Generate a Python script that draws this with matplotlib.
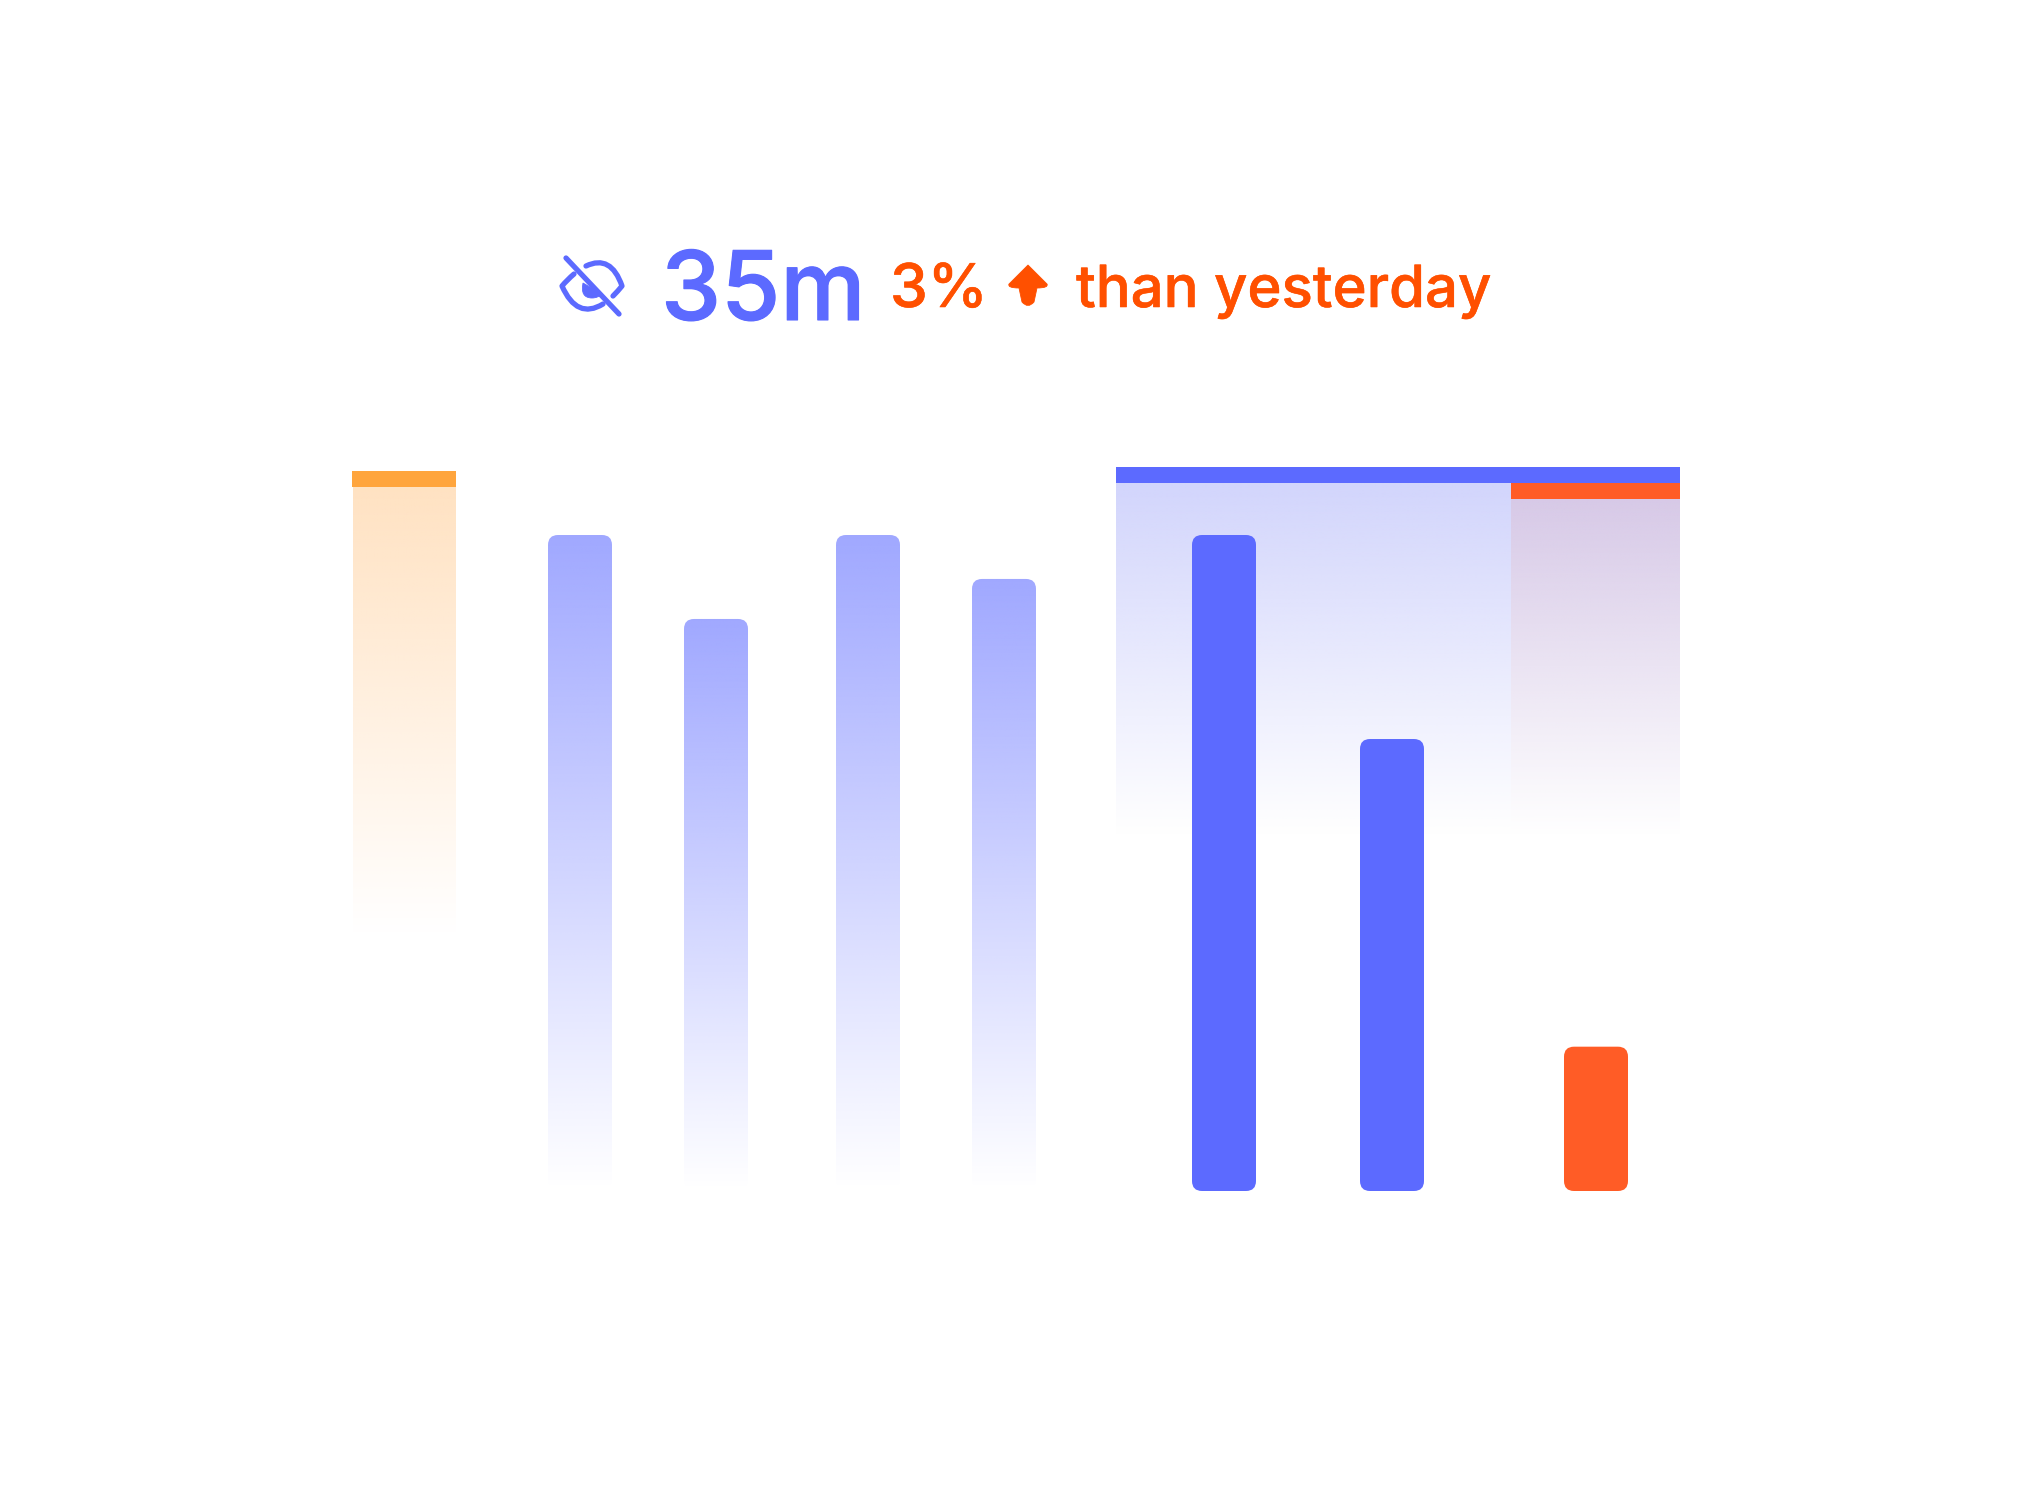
import numpy as np
import matplotlib
matplotlib.use('Agg')
import matplotlib.pyplot as plt
import matplotlib.patheffects as pe
from matplotlib.patches import FancyBboxPatch, Rectangle, PathPatch
from matplotlib.path import Path
from matplotlib.colors import to_rgb

#### DATA ####
light_values = [100, 87.2, 100, 93.3]
dark_values = [100, 68.9]
red_values = [22]
orange_band = 109.8
blue_band = 110.4
red_band = 108

BLUE = '#5C6AFF'
LIGHT = '#A0A8FF'
RED = '#FF5C26'
ORANGE = '#FFA53D'
TEXT_RED = '#FF5000'

#### AXES ####
W, H = 2032, 1488
PX = 6.56    # pixels per value unit
BASE = 1191  # pixel row of the zero line
fig = plt.figure(figsize=(W/200, H/200), dpi=200, facecolor='white')
ax = fig.add_axes([0, 0, 1, 1])
ax.set_xlim(0, W)
ax.set_ylim((BASE-H)/PX, BASE/PX)
ax.axis('off')


def px(row):
    # pixel row -> value
    return (BASE-row)/PX


def fade(x0, x1, y0, y1, color, a0=1.0, clip=None, z=1):
    rgba = np.zeros((256, 1, 4))
    rgba[..., :3] = to_rgb(color)
    rgba[:, 0, 3] = np.linspace(a0, 0, 256)
    im = ax.imshow(rgba, extent=(x0, x1, y1, y0), aspect='auto', zorder=z, interpolation='bilinear')
    if clip is not None:
        im.set_clip_path(clip)
    ax.set_xlim(0, W)
    ax.set_ylim((BASE-H)/PX, BASE/PX)


def rounded(x0, x1, val, **kw):
    return FancyBboxPatch((x0+10, 10/PX), x1-x0-20, val-20/PX,
                          boxstyle='round,pad=10,rounding_size=10',
                          mutation_aspect=1/PX, lw=0, **kw)


#### BANDS ####
fade(353, 456, orange_band-16/PX, px(935), '#FFE2C2')
ax.add_patch(Rectangle((352, orange_band-16/PX), 104, 16/PX, fc=ORANGE, lw=0, zorder=3))

fade(1116, 1511, blue_band-16/PX, px(836), '#D2D5FC')
ax.add_patch(Rectangle((1116, blue_band-16/PX), 564, 16/PX, fc=BLUE, lw=0, zorder=3))

fade(1511, 1680, red_band-16/PX, px(836), '#D7C9E7')
ax.add_patch(Rectangle((1511, red_band-16/PX), 169, 16/PX, fc=RED, lw=0, zorder=3))

#### BARS ####
for x0, v in zip([548, 684, 836, 972], light_values):
    p = rounded(x0, x0+64, v, fc='none')
    ax.add_patch(p)
    fade(x0, x0+64, v, px(1189), LIGHT, clip=p, z=2)

for x0, v in zip([1192, 1360], dark_values):
    ax.add_patch(rounded(x0, x0+64, v, fc=BLUE, zorder=4))

for x0, v in zip([1564], red_values):
    ax.add_patch(rounded(x0, x0+64, v, fc=RED, zorder=4))

#### HEADER ####
font = ['Inter', 'DejaVu Sans']
ax.text(661, px(320), '35m', fontsize=34.5, family=font, fontweight=500, color=BLUE, va='baseline', ha='left',
        path_effects=[pe.withStroke(linewidth=0.4, foreground=BLUE)])
ax.text(890, px(307), '3%', fontsize=21.7, family=font, fontweight=500, color=TEXT_RED, va='baseline', ha='left',
        path_effects=[pe.withStroke(linewidth=0.2, foreground=TEXT_RED)])
ax.text(1076, px(307), 'than yesterday', fontsize=20.9, family=font, fontweight=500, color=TEXT_RED, va='baseline', ha='left',
        path_effects=[pe.withStroke(linewidth=0.2, foreground=TEXT_RED)])

# arrow glyph
arrow = Path([(1028, px(265)), (1047, px(284)), (1049, px(288)), (1037, px(288)), (1034, px(302)),
              (1028, px(309)), (1022, px(302)), (1019, px(288)), (1007, px(288)), (1009, px(284)), (1028, px(265))],
             [Path.MOVETO, Path.LINETO, Path.CURVE3, Path.CURVE3, Path.LINETO,
              Path.CURVE3, Path.CURVE3, Path.LINETO, Path.CURVE3, Path.CURVE3, Path.CLOSEPOLY])
ax.add_patch(PathPatch(arrow, fc=TEXT_RED, ec=TEXT_RED, lw=0.3, zorder=5))

# crossed eye icon
lw = 1.9
ax.plot([566, 619], [px(258), px(314)], color=BLUE, lw=lw, solid_capstyle='round', zorder=6)
eye_r = Path([(586, px(266)), (611, px(254)), (622, px(286)), (618, px(291)), (613, px(296))],
             [Path.MOVETO, Path.CURVE3, Path.CURVE3, Path.CURVE3, Path.CURVE3])
eye_l = Path([(574, px(274)), (567, px(280)), (562, px(286)), (577, px(320)), (603, px(304))],
             [Path.MOVETO, Path.CURVE3, Path.CURVE3, Path.CURVE3, Path.CURVE3])
for path in [eye_r, eye_l]:
    ax.add_patch(PathPatch(path, fc='none', ec=BLUE, lw=lw, capstyle='round', joinstyle='round', zorder=6))
pupil = Path([(583, px(283)), (580, px(298)), (592, px(298)), (598, px(298)), (602, px(294)), (583, px(283))],
             [Path.MOVETO, Path.CURVE3, Path.CURVE3, Path.CURVE3, Path.CURVE3, Path.CLOSEPOLY])
ax.add_patch(PathPatch(pupil, fc=BLUE, ec=BLUE, lw=0.3, zorder=6))

plt.savefig('out.png', dpi=200, facecolor='white')
